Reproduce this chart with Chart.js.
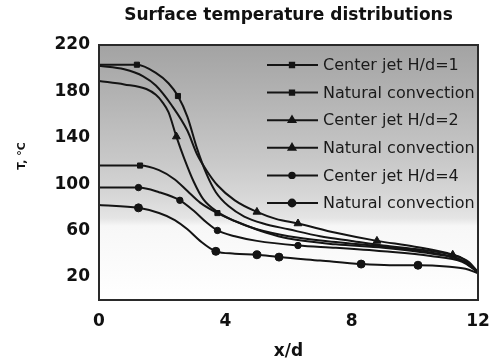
<!DOCTYPE html>
<html>
<head>
<meta charset="utf-8">
<script src="https://cdn.jsdelivr.net/npm/chart.js@4.4.0/dist/chart.umd.min.js"></script>
<style>
  html, body { margin: 0; padding: 0; background: #fff; }
</style>
</head>
<body>
<canvas id="tempChart" width="494" height="364"></canvas>
<script>
// axis ticks
const xTicks = [0, 4, 8, 12];
const yTicks = [20, 60, 100, 140, 180, 220];

const seriesNames = [
  "Center jet H/d=1", "Natural convection",
  "Center jet H/d=2", "Natural convection",
  "Center jet H/d=4", "Natural convection"
];

// x/d positions, surface temperature (°C), and x/d where a marker sits
const jet1X = [0, 0.6, 1.2, 1.8, 2.2, 2.5, 2.8, 3.1, 3.4, 3.7, 4.1, 4.6, 5.2, 6.0, 7.0, 8.0, 9.0, 10.0, 11.0, 11.5, 12];
const jet1T = [203, 203, 203, 196, 187, 176, 158, 131, 109, 93, 81, 72, 66, 61, 55, 51, 47, 44, 40, 36, 24];
const jet1Marks = [1.2, 2.5];

const nat1X = [0, 1.3, 1.9, 2.4, 2.8, 3.2, 3.75, 4.5, 5.3, 6.0, 7.5, 9.0, 10.5, 11.5, 12];
const nat1T = [116, 116, 112, 104, 94, 84, 75, 66, 58, 53, 48, 45, 40, 34, 24];
const nat1Marks = [1.3, 3.75];

const jet2X = [0, 0.8, 1.5, 1.8, 2.0, 2.2, 2.45, 2.7, 3.0, 3.3, 3.75, 4.3, 5.0, 6.0, 7.5, 9.0, 10.5, 11.5, 12];
const jet2T = [189, 186, 182, 177, 171, 162, 141, 122, 102, 87, 76, 68, 61, 55, 50, 46, 41, 34, 24];
const jet2Marks = [2.45];

const nat2X = [0, 0.8, 1.4, 1.8, 2.3, 2.8, 3.1, 3.4, 3.75, 4.3, 5.0, 5.6, 6.3, 7.5, 8.8, 10.0, 11.2, 11.7, 12];
const nat2T = [202, 199, 193, 185, 168, 146, 126, 112, 99, 86, 76, 70, 66, 58, 51, 46, 39, 33, 24];
const nat2Marks = [5.0, 6.3, 8.8, 11.2];

const jet4X = [0, 1.25, 1.9, 2.56, 3.0, 3.4, 3.75, 4.3, 5.0, 6.3, 7.5, 9.0, 10.5, 11.5, 12];
const jet4T = [97, 97, 93, 86, 77, 67, 60, 55, 51, 47, 45, 42, 38, 33, 24];
const jet4Marks = [1.25, 2.56, 3.75, 6.3];

const nat4X = [0, 1.25, 1.9, 2.4, 2.8, 3.2, 3.7, 4.3, 5.0, 5.7, 7.0, 8.3, 9.2, 10.1, 11.0, 11.6, 12];
const nat4T = [82, 79.5, 75, 69, 61, 51, 42, 40, 39, 37, 34, 31, 30, 30, 29, 27, 23];
const nat4Marks = [1.25, 3.7, 5.0, 5.7, 8.3, 10.1];

const INK = "#141414";
const markerStyles = [
  { style: "rect", r: 3.6 }, { style: "rect", r: 3.6 },
  { style: "triangle", r: 4.5 }, { style: "triangle", r: 4.5 },
  { style: "circle", r: 3.2 }, { style: "circle", r: 4 }
];

const curves = [
  [jet1X, jet1T, jet1Marks], [nat1X, nat1T, nat1Marks],
  [jet2X, jet2T, jet2Marks], [nat2X, nat2T, nat2Marks],
  [jet4X, jet4T, jet4Marks], [nat4X, nat4T, nat4Marks]
];

const datasets = curves.map(([xs, ts, marks], i) => ({
  label: seriesNames[i],
  data: xs.map((x, k) => ({ x, y: ts[k] })),
  borderColor: INK,
  backgroundColor: INK,
  borderWidth: 2,
  cubicInterpolationMode: "monotone",
  pointStyle: markerStyles[i].style,
  pointRadius: ctx => (marks.includes(ctx.raw.x) ? markerStyles[i].r : 0),
  pointBackgroundColor: INK,
  pointBorderColor: INK,
  pointBorderWidth: 1
}));

// shaded plot background, frame, in-plot key and the rotated y title
const plotDecor = {
  id: "plotDecor",
  beforeDatasetsDraw(chart) {
    const { ctx, chartArea: a } = chart;
    const g = ctx.createLinearGradient(0, a.top, 0, a.bottom);
    g.addColorStop(0, "#a3a3a3");
    g.addColorStop(0.2, "#b3b3b3");
    g.addColorStop(0.45, "#c8c8c8");
    g.addColorStop(0.6, "#d8d8d8");
    g.addColorStop(0.68, "#e5e5e5");
    g.addColorStop(0.71, "#f7f7f7");
    g.addColorStop(1, "#ffffff");
    ctx.save();
    ctx.fillStyle = g;
    ctx.fillRect(a.left, a.top, a.width, a.height);
    ctx.restore();
  },
  afterDatasetsDraw(chart) {
    const { ctx, chartArea: a } = chart;
    ctx.save();

    // key
    chart.data.datasets.forEach((ds, i) => {
      const y = 65 + i * 27.6;
      ctx.strokeStyle = INK;
      ctx.lineWidth = 2;
      ctx.beginPath();
      ctx.moveTo(267, y);
      ctx.lineTo(318, y);
      ctx.stroke();
      ctx.fillStyle = INK;
      Chart.helpers.drawPoint(ctx, {
        pointStyle: markerStyles[i].style,
        radius: markerStyles[i].r * 0.85,
        rotation: 0,
        borderWidth: 1
      }, 292, y);
      ctx.fillStyle = "#1a1a1a";
      ctx.font = "16px 'DejaVu Sans'";
      ctx.textBaseline = "middle";
      ctx.textAlign = "left";
      ctx.fillText(ds.label, 323, y + 1);
    });

    // frame
    ctx.strokeStyle = "#2a2a2a";
    ctx.lineWidth = 2;
    ctx.strokeRect(a.left, a.top, a.width, a.height);

    // y axis title
    ctx.translate(22, 156);
    ctx.rotate(-Math.PI / 2);
    ctx.fillStyle = "#111";
    ctx.font = "bold 11px 'DejaVu Sans'";
    ctx.textAlign = "center";
    ctx.textBaseline = "middle";
    ctx.fillText("T, °C", 0, 0);
    ctx.restore();
  }
};

new Chart(document.getElementById("tempChart"), {
  type: "line",
  data: { datasets },
  options: {
    responsive: false,
    animation: false,
    layout: { padding: { left: 0, right: 16, top: 0, bottom: 0 } },
    plugins: {
      legend: { display: false },
      tooltip: { enabled: false },
      title: {
        display: true,
        fullSize: false,
        text: "Surface temperature distributions",
        color: "#111",
        font: { family: "'DejaVu Sans'", size: 17, weight: "bold", lineHeight: 1.2 },
        padding: { top: 5, bottom: 19.6 }
      }
    },
    scales: {
      x: {
        type: "linear",
        min: 0,
        max: 12,
        afterBuildTicks: s => { s.ticks = xTicks.map(v => ({ value: v })); },
        afterFit: s => {
          s.height = 64;
          s.paddingLeft = 0;
          s.paddingRight = 0;
        },
        grid: { display: false, drawTicks: false },
        border: { display: false },
        ticks: {
          padding: 11,
          color: "#111",
          maxRotation: 0,
          font: { family: "'DejaVu Sans'", size: 17, weight: "bold" }
        },
        title: {
          display: true,
          text: "x/d",
          color: "#111",
          font: { family: "'DejaVu Sans'", size: 17, weight: "bold" },
          padding: { top: 0, bottom: 2 }
        }
      },
      y: {
        min: 0,
        max: 220,
        afterBuildTicks: s => { s.ticks = yTicks.map(v => ({ value: v })); },
        afterFit: s => {
          s.width = 99;
          s.paddingTop = 0;
          s.paddingBottom = 0;
        },
        grid: { display: false, drawTicks: false },
        border: { display: false },
        ticks: {
          padding: 9,
          color: "#111",
          font: { family: "'DejaVu Sans'", size: 17, weight: "bold" }
        }
      }
    }
  },
  plugins: [plotDecor]
});
</script>
</body>
</html>
